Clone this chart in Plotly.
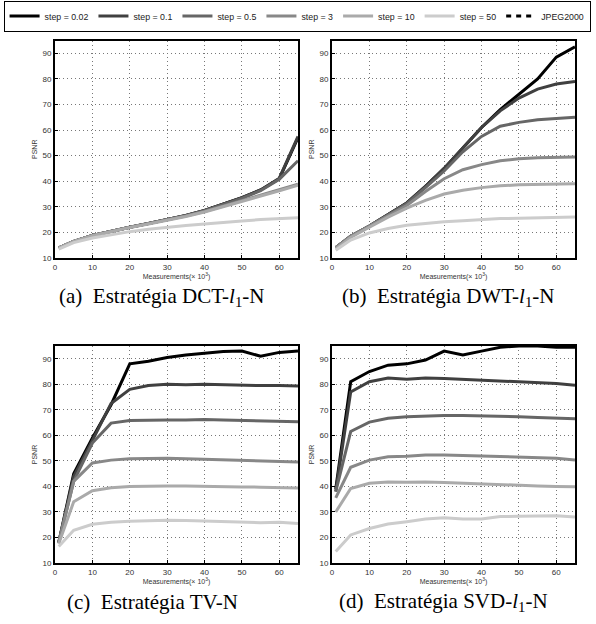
import plotly.graph_objects as go

x = [1, 5, 10, 15, 20, 25, 30, 35, 40, 45, 50, 55, 60, 65]
steps = ["step = 0.02", "step = 0.1", "step = 0.5", "step = 3", "step = 10", "step = 50"]
colors = ["#000000", "#404040", "#666666", "#888888", "#aaaaaa", "#cccccc"]

# (a) DCT-l1-N
dct_002 = [14, 16.5, 18.8, 20.5, 22, 23.5, 25, 26.6, 28.6, 31, 33.6, 36.6, 41, 57]
dct_01 = [14, 16.5, 18.8, 20.5, 22, 23.5, 25, 26.6, 28.6, 31, 33.6, 36.6, 41.2, 57.5]
dct_05 = [14, 16.5, 18.8, 20.5, 22, 23.5, 25, 26.5, 28.5, 30.8, 33.3, 36.3, 40.8, 48]
dct_3 = [14, 16.5, 18.8, 20.5, 22, 23.5, 25, 26.4, 28.2, 30.3, 32.4, 34.6, 36.8, 38.8]
dct_10 = [14, 16.5, 18.7, 20.4, 21.9, 23.3, 24.8, 26.2, 28, 30, 32, 34.2, 36.3, 38.5]
dct_50 = [13.5, 16, 17.8, 19.2, 20.3, 21.2, 22, 22.7, 23.3, 24, 24.5, 25, 25.3, 25.7]

# (b) DWT-l1-N
dwt_002 = [14, 18.5, 22.5, 27, 31.5, 38, 45, 53, 61, 68, 74, 80, 88.5, 92.5]
dwt_01 = [14, 18.5, 22.5, 27, 31.5, 38, 45, 53, 61, 67.5, 72.5, 76, 78, 79]
dwt_05 = [14, 18.5, 22.5, 27, 31.2, 37.5, 44, 51.5, 57.5, 61.5, 63, 64, 64.5, 65]
dwt_3 = [14, 18.5, 22.5, 26.5, 30.5, 36, 41, 44.5, 46.5, 48, 48.8, 49.2, 49.3, 49.5]
dwt_10 = [13.5, 18, 22, 26, 29.5, 32.5, 35, 36.5, 37.5, 38.2, 38.6, 38.8, 39, 39]
dwt_50 = [13, 17, 19.8, 21.5, 22.8, 23.5, 24.2, 24.6, 25, 25.4, 25.5, 25.7, 25.8, 26]

# (c) TV-N
tv_002 = [18, 45, 59, 72, 88, 89, 90.5, 91.5, 92.2, 92.8, 93, 91, 92.5, 93]
tv_01 = [18, 44, 58, 72.5, 78, 79.5, 80, 79.8, 80, 79.8, 79.8, 79.5, 79.5, 79.3]
tv_05 = [18, 42, 57, 64.8, 65.8, 66, 66, 66, 66.2, 66, 65.8, 65.7, 65.5, 65.3]
tv_3 = [18, 42, 49.2, 50.3, 50.8, 51, 51, 50.8, 50.6, 50.4, 50.2, 50, 49.8, 49.6]
tv_10 = [17.5, 34, 38.3, 39.5, 40, 40.2, 40.2, 40.2, 40, 40, 39.8, 39.7, 39.5, 39.4]
tv_50 = [16.5, 22.8, 25.2, 26, 26.4, 26.6, 26.7, 26.6, 26.4, 26.2, 26, 25.8, 26, 25.5]

# (d) SVD-l1-N
svd_002 = [39, 81, 85, 87.5, 88, 89.5, 93, 91.5, 93, 94.5, 95, 95, 94.5, 94.5]
svd_01 = [38, 77, 81, 82.5, 82, 82.5, 82.3, 82, 81.5, 81.3, 81, 80.7, 80.3, 79.6]
svd_05 = [38, 61.5, 65.2, 66.7, 67.3, 67.6, 67.8, 67.8, 67.7, 67.5, 67.3, 67, 66.8, 66.5]
svd_3 = [35.5, 47.5, 50.3, 51.6, 51.8, 52.3, 52.3, 52.2, 51.9, 51.7, 51.5, 51.3, 51, 50.3]
svd_10 = [30, 39.2, 41.2, 41.7, 41.6, 41.7, 41.5, 41.2, 41, 40.8, 40.5, 40.2, 40, 39.9]
svd_50 = [14.5, 21, 23.5, 25.3, 26.2, 27.2, 27.7, 27.2, 27.2, 28.2, 28.3, 28.4, 28.5, 28]

panels = [
    [dct_002, dct_01, dct_05, dct_3, dct_10, dct_50],
    [dwt_002, dwt_01, dwt_05, dwt_3, dwt_10, dwt_50],
    [tv_002, tv_01, tv_05, tv_3, tv_10, tv_50],
    [svd_002, svd_01, svd_05, svd_3, svd_10, svd_50],
]
captions = ["(a)  Estratégia DCT-<i>l</i><sub>1</sub>-N",
            "(b)  Estratégia DWT-<i>l</i><sub>1</sub>-N",
            "(c)  Estratégia TV-N",
            "(d)  Estratégia SVD-<i>l</i><sub>1</sub>-N"]

W, H = 596, 624
# pixel boxes (left, right, top, bottom)
boxes = [(55, 298, 40.5, 258), (332, 575, 40.5, 258), (55, 298, 346, 563), (332, 575, 346, 563)]
cap_pos = [(161, 297), (448, 297), (152, 602), (443, 602)]

fig = go.Figure()
for i, series in enumerate(panels):
    ax = "" if i == 0 else str(i + 1)
    for j, ys in enumerate(series):
        fig.add_trace(go.Scatter(
            x=x, y=ys, mode="lines", name=steps[j],
            line=dict(color=colors[j], width=3),
            xaxis="x" + ax, yaxis="y" + ax,
            showlegend=(i == 0), legendrank=j + 1,
            cliponaxis=True,
        ))
fig.add_trace(go.Scatter(x=[None], y=[None], mode="lines", name="JPEG2000",
                         line=dict(color="black", width=3, dash="5px,5px"),
                         showlegend=True, legendrank=7))

layout = dict(
    width=W, height=H, margin=dict(l=0, r=0, t=0, b=0, autoexpand=False),
    paper_bgcolor="white", plot_bgcolor="white",
    font=dict(family="Liberation Sans, Arial, sans-serif", color="#333333"),
    legend=dict(orientation="h", x=0.006, y=0.999, xanchor="left", yanchor="top",
                xref="container", yref="container",
                bordercolor="black", borderwidth=1, font=dict(size=8.8, color="#222222"),
                itemwidth=30, tracegroupgap=0, bgcolor="white"),
    annotations=[],
)
for i, (l, r, t, b) in enumerate(boxes):
    ax = "" if i == 0 else str(i + 1)
    xa = dict(domain=[l / W, r / W], range=[0, 65], tickvals=[0, 10, 20, 30, 40, 50, 60],
              showgrid=True, gridcolor="#777777", griddash="1px,3px", gridwidth=1,
              showline=True, linecolor="black", linewidth=2, mirror=True,
              ticks="inside", ticklen=3, tickcolor="black", zeroline=False,
              tickfont=dict(size=8, color="#333333"),
              title=dict(text="Measurements(× 10<sup>3</sup>)", font=dict(size=7, color="#333333"), standoff=3),
              anchor="y" + ax)
    ya = dict(domain=[1 - b / H, 1 - t / H], range=[10, 95], tickvals=[10, 20, 30, 40, 50, 60, 70, 80, 90],
              showgrid=True, gridcolor="#777777", griddash="1px,3px", gridwidth=1,
              showline=True, linecolor="black", linewidth=2, mirror=True,
              ticks="inside", ticklen=3, tickcolor="black", zeroline=False,
              tickfont=dict(size=8, color="#333333"),
              title=dict(text="PSNR", font=dict(size=7, color="#333333"), standoff=4),
              anchor="x" + ax)
    layout["xaxis" + ax] = xa
    layout["yaxis" + ax] = ya
    cx, cy = cap_pos[i]
    layout["annotations"].append(dict(
        text=captions[i], x=cx / W, y=1 - cy / H, xref="paper", yref="paper",
        showarrow=False, xanchor="center", yanchor="middle",
        font=dict(family="Liberation Serif, Times New Roman, serif", size=21, color="black")))

fig.update_layout(**layout)
fig.write_html("out.html", config={"displayModeBar": False},
               post_script="document.body.style.margin='0px';document.body.style.padding='0px';")
